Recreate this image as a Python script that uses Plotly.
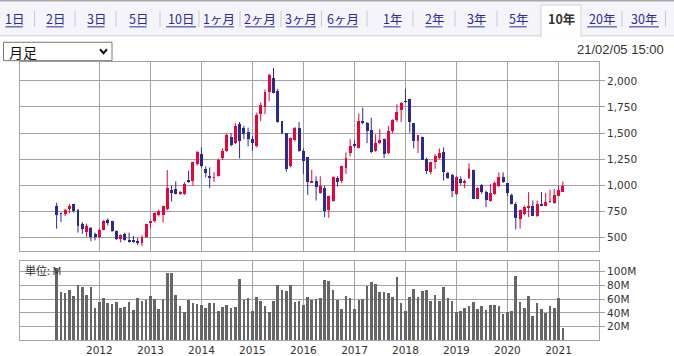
import pandas as pd
import plotly.graph_objects as go

# ---------------- data ----------------
months = pd.date_range("2011-03-01", periods=120, freq="MS")

opens = [798, 735, 728, 776, 817, 769, 627, 554, 595, 531,
         507, 576, 668, 655, 564, 484, 531, 481, 474, 465,
         450, 507, 640, 655, 719, 719, 776, 959, 966, 919,
         919, 1055, 1045, 1204, 1299, 1156, 1093, 1071, 1093, 1258,
         1330, 1467, 1404, 1584, 1553, 1511, 1442, 1372, 1680, 1753,
         1892, 2029, 1901, 1616, 1499, 1182, 1435, 1553, 1330, 1268,
         1023, 1045, 928, 976, 769, 855, 1071, 1045, 1163, 1309,
         1395, 1353, 1616, 1594, 1530, 1330, 1404, 1442, 1309, 1521,
         1625, 1721, 1806, 1829, 1594, 1426, 1467, 1251, 1131, 1226,
         1258, 1315, 1118, 1099, 919, 1061, 1023, 1068, 1147, 871,
         1004, 940, 855, 919, 997, 1077, 1023, 909, 823, 674,
         728, 782, 807, 706, 817, 807, 840, 833, 902, 940]
highs = [833, 740, 776, 820, 825, 776, 649, 634, 602, 548,
         586, 668, 684, 662, 569, 531, 548, 548, 516, 497,
         522, 633, 655, 744, 769, 807, 1147, 997, 1039, 947,
         1030, 1140, 1226, 1330, 1363, 1182, 1172, 1125, 1258, 1353,
         1499, 1499, 1594, 1606, 1568, 1553, 1473, 1696, 1791, 1917,
         2069, 2124, 1924, 1616, 1499, 1458, 1560, 1606, 1353, 1268,
         1150, 1087, 1087, 997, 902, 1087, 1087, 1188, 1315, 1442,
         1430, 1689, 1743, 1606, 1648, 1489, 1537, 1448, 1568, 1632,
         1775, 1797, 1924, 1829, 1594, 1480, 1467, 1264, 1226, 1299,
         1353, 1363, 1131, 1109, 1087, 1087, 1055, 1213, 1150, 982,
         1014, 950, 1014, 1036, 1125, 1125, 1023, 919, 840, 769,
         807, 935, 855, 855, 935, 928, 959, 966, 997, 1036]
lows = [586, 650, 705, 735, 740, 548, 538, 507, 465, 474,
        497, 569, 617, 554, 478, 455, 471, 452, 450, 427,
        421, 497, 586, 643, 703, 643, 760, 845, 912, 909,
        909, 1023, 997, 1188, 1172, 1077, 973, 1030, 1083, 1242,
        1321, 1372, 1394, 1258, 1442, 1372, 1330, 1363, 1616, 1680,
        1806, 1879, 1600, 1489, 1131, 1172, 1420, 1321, 1109, 909,
        1023, 855, 919, 697, 690, 845, 988, 1023, 1109, 1277,
        1360, 1353, 1584, 1404, 1309, 1321, 1394, 1261, 1299, 1499,
        1606, 1606, 1790, 1505, 1353, 1309, 1245, 1109, 1109, 1156,
        1251, 1045, 1061, 887, 909, 1004, 973, 1061, 871, 871,
        919, 792, 845, 909, 982, 1023, 897, 817, 579, 586,
        712, 697, 706, 697, 801, 801, 833, 823, 897, 935]
closes = [719, 728, 769, 807, 750, 611, 579, 607, 507, 507,
          576, 655, 636, 560, 484, 522, 478, 459, 455, 450,
          507, 627, 655, 735, 750, 798, 976, 928, 919, 935,
          1014, 1030, 1220, 1315, 1182, 1115, 1068, 1083, 1245, 1330,
          1480, 1385, 1568, 1426, 1489, 1442, 1404, 1670, 1765, 1892,
          2060, 1886, 1606, 1499, 1156, 1451, 1553, 1330, 1235, 1036,
          1045, 988, 997, 750, 897, 1077, 1030, 1182, 1258, 1372,
          1380, 1616, 1594, 1521, 1321, 1410, 1435, 1299, 1521, 1622,
          1701, 1784, 1794, 1606, 1426, 1480, 1245, 1140, 1220, 1277,
          1309, 1125, 1071, 950, 1077, 1023, 1045, 1156, 871, 973,
          935, 864, 925, 1023, 1077, 1036, 928, 823, 687, 760,
          792, 807, 706, 823, 807, 840, 855, 909, 957, 997]
volumes_m = [105, 70, 69, 73, 65, 81, 77, 66, 77, 47,
             56, 61, 54, 53, 56, 47, 48, 56, 44, 61,
             57, 59, 64, 60, 45, 60, 98, 98, 66, 50,
             41, 59, 54, 53, 51, 47, 54, 54, 43, 48,
             51, 47, 48, 89, 59, 61, 43, 63, 57, 50,
             41, 57, 80, 73, 72, 81, 56, 57, 51, 63,
             59, 60, 61, 87, 86, 73, 59, 45, 64, 61,
             45, 59, 60, 79, 85, 82, 70, 70, 69, 63,
             92, 54, 43, 63, 74, 63, 72, 73, 57, 66,
             57, 77, 61, 57, 41, 43, 47, 50, 56, 45,
             50, 44, 51, 51, 50, 38, 41, 43, 93, 56,
             47, 64, 35, 54, 45, 40, 50, 47, 61, 18]

price_ticks = [500, 750, 1000, 1250, 1500, 1750, 2000]
vol_ticks = [20, 40, 60, 80, 100]
vol_tick_labels = ["20M", "40M", "60M", "80M", "100M"]
year_ticks = ["2012-01-01", "2013-01-01", "2014-01-01", "2015-01-01", "2016-01-01",
              "2017-01-01", "2018-01-01", "2019-01-01", "2020-01-01", "2021-01-01"]
year_labels = ["2012", "2013", "2014", "2015", "2016", "2017", "2018", "2019", "2020", "2021"]
tab_labels = ["1日", "2日", "3日", "5日", "10日", "1ヶ月", "2ヶ月", "3ヶ月", "6ヶ月",
              "1年", "2年", "3年", "5年", "10年", "20年", "30年"]
selected_tab = "10年"
period_label = "月足"
timestamp = "21/02/05 15:00"
unit_label = "単位: M"

# ---------------- style ----------------
W, H = 674, 356
RED = "#e8043c"
BLUE = "#2b2b8f"
GRID = "#a3a3a3"
TXT = "#333333"
NUMFONT = "DejaVu Sans"
JPFONT = "Noto Sans CJK JP"


def px(x):
    return x / W


def py(y):
    return 1 - y / H


DAY_MS = 86400000
body_w = 21 * DAY_MS
vol_w = 19 * DAY_MS

inc = [i for i in range(len(months)) if closes[i] >= opens[i]]
dec = [i for i in range(len(months)) if closes[i] < opens[i]]

fig = go.Figure()


def wick_trace(idx, color):
    xs, ys = [], []
    for i in idx:
        xs += [months[i], months[i], None]
        ys += [lows[i], highs[i], None]
    return go.Scatter(x=xs, y=ys, mode="lines", line=dict(color=color, width=1),
                      hoverinfo="skip", showlegend=False, xaxis="x", yaxis="y")


def body_trace(idx, color):
    bases, hts = [], []
    for i in idx:
        lo = min(opens[i], closes[i])
        hi = max(opens[i], closes[i])
        h = max(hi - lo, 9)
        bases.append(lo if hi - lo >= 9 else (lo + hi) / 2 - 4.5)
        hts.append(h)
    return go.Bar(x=[months[i] for i in idx], y=hts, base=bases, width=body_w,
                  marker=dict(color=color, line=dict(width=0)),
                  showlegend=False, xaxis="x", yaxis="y")


fig.add_trace(wick_trace(inc, RED))
fig.add_trace(wick_trace(dec, BLUE))
fig.add_trace(body_trace(inc, RED))
fig.add_trace(body_trace(dec, BLUE))

fig.add_trace(go.Bar(x=months, y=volumes_m, width=vol_w,
                     marker=dict(color="#666666", line=dict(width=0)),
                     showlegend=False, xaxis="x2", yaxis="y2"))

xrange = ["2010-06-08", "2021-10-18"]
xdom = [px(19.5), px(599)]

axis_common = dict(showline=True, linecolor=GRID, linewidth=1, mirror=True,
                   gridcolor=GRID, gridwidth=1, zeroline=False)

fig.update_layout(
    width=W, height=H, margin=dict(l=0, r=0, t=0, b=0),
    paper_bgcolor="white", plot_bgcolor="white",
    barmode="overlay", bargap=0,
    xaxis=dict(domain=xdom, range=xrange, type="date", anchor="y",
               tickvals=year_ticks, ticktext=year_labels, showticklabels=False,
               showgrid=True, ticks="", **axis_common),
    yaxis=dict(domain=[py(252), py(62.7)], range=[376, 2177], side="right",
               anchor="x", tickvals=price_ticks, tickformat=",d",
               ticks="outside", ticklen=5, tickcolor=GRID,
               tickfont=dict(family=NUMFONT, size=10.5, color=TXT),
               showgrid=True, **axis_common),
    xaxis2=dict(domain=xdom, range=xrange, type="date", anchor="y2",
                matches="x", tickvals=year_ticks, ticktext=year_labels,
                ticks="", ticklen=0, showgrid=True,
                tickfont=dict(family=NUMFONT, size=10.5, color=TXT),
                **axis_common),
    yaxis2=dict(domain=[py(342.3), py(262.7)], range=[0, 115], side="right",
                anchor="x2", tickvals=vol_ticks, ticktext=vol_tick_labels,
                ticks="outside", ticklen=5, tickcolor=GRID,
                tickfont=dict(family=NUMFONT, size=10.5, color=TXT),
                showgrid=True, **axis_common),
)

shapes = []
annotations = []

# tab bar
shapes.append(dict(type="rect", xref="paper", yref="paper", x0=0, x1=1,
                   y0=py(36), y1=py(0), fillcolor="#f4f4fa", line=dict(width=0), layer="below"))
shapes.append(dict(type="line", xref="paper", yref="paper", x0=0, x1=1,
                   y0=py(0.8), y1=py(0.8), line=dict(color="#a8a8a8", width=1.5)))
shapes.append(dict(type="line", xref="paper", yref="paper", x0=0, x1=1,
                   y0=py(36), y1=py(36), line=dict(color="#d0d0d8", width=1)))
# selected tab
shapes.append(dict(type="rect", xref="paper", yref="paper", x0=px(541), x1=px(581),
                   y0=py(37), y1=py(5), fillcolor="white", line=dict(color="#cfcfd8", width=1)))
shapes.append(dict(type="rect", xref="paper", yref="paper", x0=px(541.6), x1=px(580.4),
                   y0=py(38), y1=py(34), fillcolor="white", line=dict(width=0)))

tab_centers = [14, 55, 96, 138, 181, 219, 260, 301, 343, 392, 434, 476, 518, 561, 602, 644]
seps = [34.5, 75, 116, 160, 199, 240, 281, 321.5, 367, 413, 455, 497, 622, 665.5]
for s in seps:
    shapes.append(dict(type="line", xref="paper", yref="paper", x0=px(s), x1=px(s),
                       y0=py(27), y1=py(11), line=dict(color="#c8c8d0", width=1)))

for lab, cx in zip(tab_labels, tab_centers):
    if lab == selected_tab:
        txt = "<b>" + lab + "</b>"
        col = "#333333"
    else:
        txt = lab
        col = "#2b2b9a"
    annotations.append(dict(xref="paper", yref="paper", x=px(cx), y=py(19),
                            text=txt, showarrow=False, xanchor="center", yanchor="middle",
                            font=dict(family=JPFONT, size=12.5, color=col)))
    if lab != selected_tab:
        hw = 4.3 * len(lab) + (2 if len(lab) > 2 else 0)
        shapes.append(dict(type="line", xref="paper", yref="paper",
                           x0=px(cx - hw), x1=px(cx + hw), y0=py(27), y1=py(27),
                           line=dict(color="#2b2b9a", width=1)))

# dropdown
shapes.append(dict(type="rect", xref="paper", yref="paper", x0=px(3.5), x1=px(112),
                   y0=py(61), y1=py(42.5), fillcolor="white", line=dict(color="#767676", width=1)))
shapes.append(dict(type="path", xref="paper", yref="paper",
                   path="M {} {} L {} {} L {} {}".format(px(100), py(49.5), px(103.5), py(53.5), px(107), py(49.5)),
                   line=dict(color="#111111", width=2)))
annotations.append(dict(xref="paper", yref="paper", x=px(7), y=py(52), text=period_label,
                        showarrow=False, xanchor="left", yanchor="middle",
                        font=dict(family=JPFONT, size=14, color="#111111")))

annotations.append(dict(xref="paper", yref="paper", x=px(666), y=py(50), text=timestamp,
                        showarrow=False, xanchor="right", yanchor="middle",
                        font=dict(family="Liberation Sans", size=13, color=TXT)))

annotations.append(dict(xref="paper", yref="paper", x=px(23), y=py(272), text=unit_label,
                        showarrow=False, xanchor="left", yanchor="middle",
                        font=dict(family=JPFONT, size=11, color=TXT)))

fig.update_layout(shapes=shapes, annotations=annotations)

fig.write_html("out.html", config={"displayModeBar": False, "staticPlot": True},
               post_script="document.body.style.margin='0';document.body.style.padding='0';document.body.style.overflow='hidden';")
